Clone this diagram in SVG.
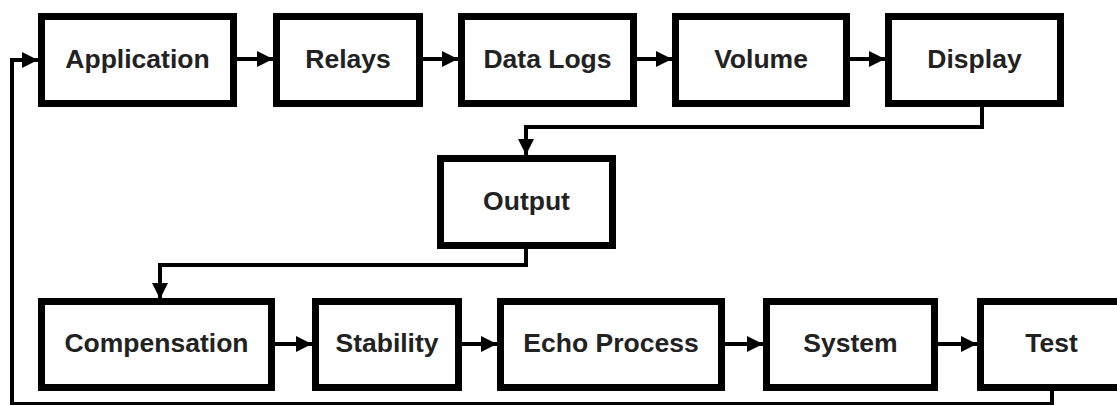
<svg xmlns="http://www.w3.org/2000/svg" width="1117" height="405" viewBox="0 0 1117 405">
<style>
.box{fill:#fff;stroke:#000;stroke-width:7}
.lbl{font-family:"Liberation Sans",Arial,sans-serif;font-weight:bold;font-size:26.5px;fill:#222;text-anchor:middle}
.con{fill:none;stroke:#000;stroke-width:4}
</style>
<defs>
<marker id="ah" markerUnits="userSpaceOnUse" markerWidth="16" markerHeight="16" refX="16" refY="8" orient="auto">
<path d="M0,0 L16,8 L0,16 Z" fill="#000"/>
</marker>
</defs>
<rect width="1117" height="405" fill="#fff"/>
<g id="connectors">
<path class="con" d="M237,59 H273" marker-end="url(#ah)"/>
<path class="con" d="M423,59 H458" marker-end="url(#ah)"/>
<path class="con" d="M637,59 H672" marker-end="url(#ah)"/>
<path class="con" d="M850,59 H885" marker-end="url(#ah)"/>
<path class="con" d="M982,107 V127 H526 V155" marker-end="url(#ah)"/>
<path class="con" d="M526,249 V265 H160 V299" marker-end="url(#ah)"/>
<path class="con" d="M275,344 H312" marker-end="url(#ah)"/>
<path class="con" d="M462,344 H497" marker-end="url(#ah)"/>
<path class="con" d="M725,344 H763" marker-end="url(#ah)"/>
<path class="con" d="M938,344 H977" marker-end="url(#ah)"/>
<path class="con" d="M1052,391 V404 H12 V60 H38" marker-end="url(#ah)"/>
</g>
<g id="application"><rect class="box" x="41.5" y="16.5" width="192" height="87"/><text class="lbl" x="137.5" y="68">Application</text></g>
<g id="relays"><rect class="box" x="276.5" y="16.5" width="143" height="87"/><text class="lbl" x="348" y="68">Relays</text></g>
<g id="datalogs"><rect class="box" x="461.5" y="16.5" width="172" height="87"/><text class="lbl" x="547.5" y="68">Data Logs</text></g>
<g id="volume"><rect class="box" x="675.5" y="16.5" width="171" height="87"/><text class="lbl" x="761" y="68">Volume</text></g>
<g id="display"><rect class="box" x="888.5" y="16.5" width="172" height="87"/><text class="lbl" x="974.5" y="68">Display</text></g>
<g id="output"><rect class="box" x="440.5" y="158.5" width="172" height="87"/><text class="lbl" x="526.5" y="210">Output</text></g>
<g id="compensation"><rect class="box" x="41.5" y="301.5" width="230" height="86"/><text class="lbl" x="156.5" y="352">Compensation</text></g>
<g id="stability"><rect class="box" x="315.5" y="301.5" width="143" height="86"/><text class="lbl" x="387" y="352">Stability</text></g>
<g id="echoprocess"><rect class="box" x="500.5" y="301.5" width="221" height="86"/><text class="lbl" x="611" y="352">Echo Process</text></g>
<g id="system"><rect class="box" x="766.5" y="301.5" width="168" height="86"/><text class="lbl" x="850.5" y="352">System</text></g>
<g id="test"><rect class="box" x="980.5" y="301.5" width="143" height="86"/><text class="lbl" x="1051.5" y="352">Test</text></g>
</svg>
